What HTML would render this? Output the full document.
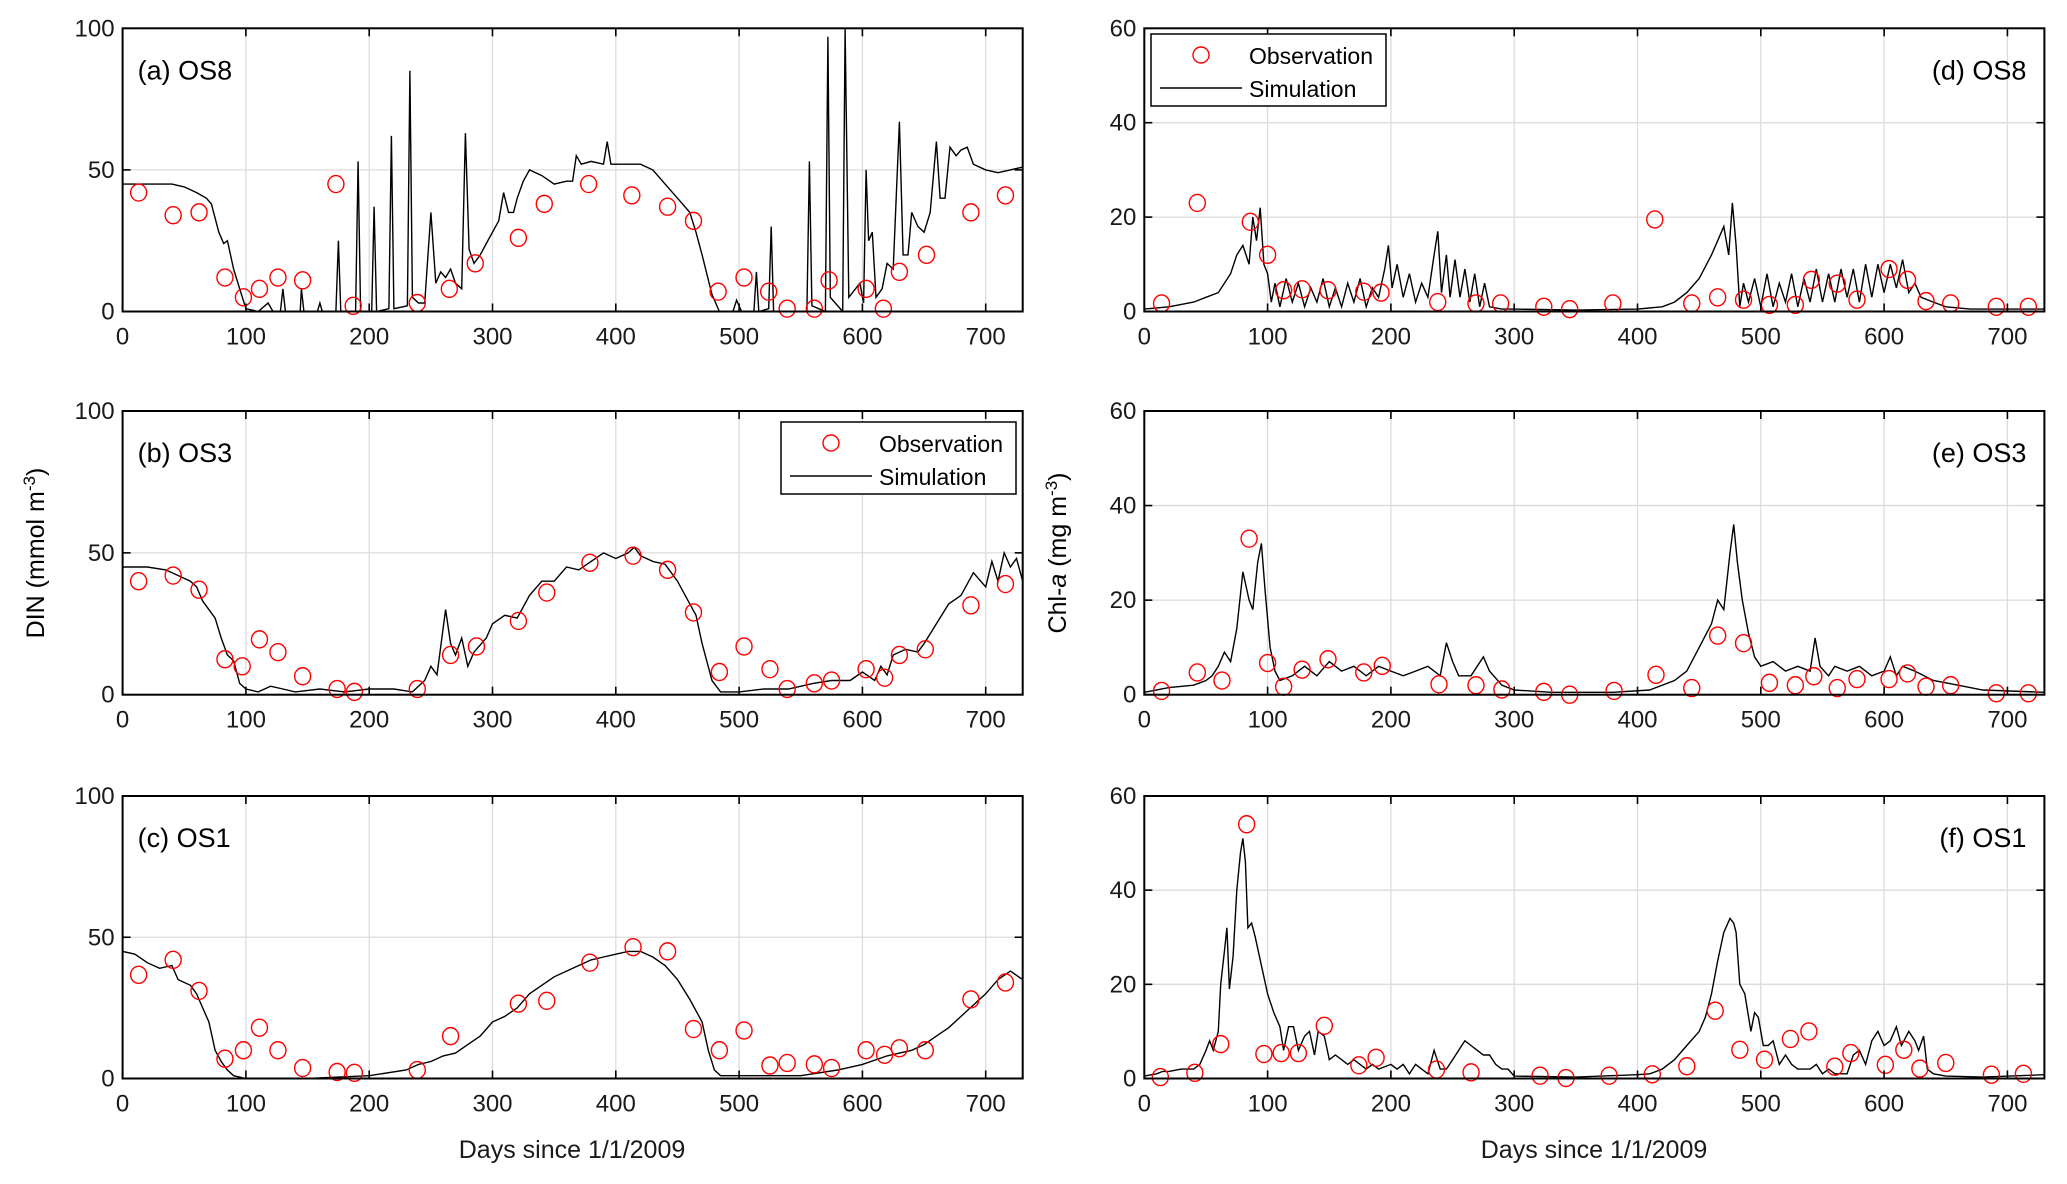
<!DOCTYPE html>
<html><head><meta charset="utf-8"><style>
html,body{margin:0;padding:0;background:#fff}
svg{display:block;font-family:"Liberation Sans",Arial,sans-serif}
</style></head><body>
<svg id="fig" width="2067" height="1184" viewBox="0 0 2067 1184" xmlns="http://www.w3.org/2000/svg"></svg>
<script>
const xTicks=[0,100,200,300,400,500,600,700];
const dinTicks=[0,50,100];
const chlTicks=[0,20,40,60];
const obsDaysA=[13,41,62,83,98,111,126,146,173,187,239,265,286,321,342,378,413,442,463,483,504,524,539,561,573,603,617,630,652,688,716];
const obsA=[42,34,35,12,5,8,12,11,45,2,3,8,17,26,38,45,41,37,32,7,12,7,1,1,11,8,1,14,20,35,41];
const obsDaysB=[13,41,62,83,97,111,126,146,174,188,239,266,287,321,344,379,414,442,463,484,504,525,539,561,575,603,618,630,651,688,716];
const obsB=[40,42,37,12.5,10,19.5,15,6.5,2,1,2,14,17,26,36,46.5,49,44,29,8,17,9,2,4,5,9,6,14,16,31.5,39];
const obsDaysC=[13,41,62,83,98,111,126,146,174,188,239,266,321,344,379,414,442,463,484,504,525,539,561,575,603,618,630,651,688,716];
const obsC=[36.7,42,31,7,10,18,10,3.7,2.3,2,3,15,26.5,27.5,41,46.5,45,17.5,10,17,4.6,5.5,5,3.7,10,8.4,10.7,10,28,34];
const obsDaysD=[14,43,86,100,113,128,149,178,192,238,269,289,324,345,380,414,444,465,486,507,528,541,562,578,604,619,634,654,691,717];
const obsD=[1.7,23,19,12,4.5,4.7,4.5,4.2,4,2,1.7,1.7,1,0.5,1.7,19.5,1.7,3,2.5,1.4,1.4,6.7,5.9,2.5,9,6.7,2.2,1.7,1,1];
const obsDaysE=[14,43,63,85,100,113,128,149,178,193,239,269,290,324,345,381,415,444,465,486,507,528,543,562,578,604,619,634,654,691,717];
const obsE=[0.8,4.7,3,33,6.7,1.7,5.3,7.5,4.7,6.1,2.2,2,1.1,0.6,0,0.8,4.2,1.4,12.5,10.9,2.5,2,3.9,1.4,3.3,3.3,4.5,1.7,2,0.3,0.3];
const obsDaysF=[13,41,62,83,97,111,125,146,174,188,237,265,321,342,377,412,440,463,483,503,524,539,560,573,601,616,629,650,687,713];
const obsF=[0.3,1.2,7.3,54,5.2,5.4,5.4,11.2,2.8,4.4,1.9,1.3,0.6,0.1,0.6,0.9,2.6,14.4,6.1,4,8.4,10,2.5,5.4,2.9,6.1,2.1,3.3,0.8,1];
const simA=[[0,45],[20,45],[40,45],[50,44],[60,42],[68,40],[72,38],[78,28],[82,24],[85,25],[90,15],[95,8],[100,1],[110,0],[118,3],[122,0],[128,0],[130,8],[132,0],[144,0],[145,8],[147,0],[158,0],[160,3],[162,0],[173,0],[175,25],[177,0],[189,0],[191,53],[193,0],[202,0],[204,37],[206,0],[216,1],[218,62],[220,1],[231,2],[233,85],[235,5],[240,3],[245,3],[250,35],[254,10],[258,14],[262,12],[266,15],[270,10],[275,8],[278,63],[281,22],[285,17],[290,20],[295,24],[300,28],[305,32],[309,42],[313,35],[317,35],[320,40],[325,46],[330,50],[340,48],[350,45],[360,46],[365,46],[368,55],[372,52],[380,53],[390,52],[393,60],[396,52],[410,52],[420,52],[430,50],[440,45],[450,40],[460,35],[465,28],[470,20],[478,6],[484,0],[495,0],[498,4],[502,0],[512,0],[514,14],[516,0],[524,1],[526,30],[528,0],[555,0],[557,53],[559,2],[570,0],[572,97],[574,5],[584,0],[586,100],[589,5],[598,10],[601,3],[603,50],[605,25],[608,28],[611,5],[616,8],[620,17],[625,15],[630,67],[633,20],[637,20],[640,35],[645,30],[650,28],[655,35],[660,60],[663,40],[667,40],[671,58],[676,55],[680,57],[685,58],[690,52],[700,50],[710,49],[720,50],[730,51]];
const simB=[[0,45],[20,45],[35,44],[45,42],[55,40],[60,38],[65,33],[70,30],[75,27],[80,20],[85,14],[90,12],[95,4],[100,2],[110,1],[120,3],[130,2],[140,1],[160,2],[180,1],[200,2],[220,2],[235,1],[245,5],[250,10],[255,7],[262,30],[266,18],[270,14],[275,20],[280,10],[285,15],[295,20],[300,25],[310,28],[320,27],[330,35],[340,40],[350,40],[360,45],[370,44],[380,47],[390,50],[400,48],[410,50],[415,52],[420,49],[430,47],[440,46],[450,40],[460,32],[465,28],[470,18],[478,5],[485,1],[500,1],[520,2],[540,2],[560,4],[575,5],[590,5],[600,8],[610,5],[615,10],[620,7],[625,14],[635,16],[645,15],[650,18],[660,25],[670,32],[680,35],[690,43],[700,38],[705,47],[710,40],[715,50],[720,45],[725,48],[730,40]];
const simC=[[0,45],[10,44],[20,41],[30,39],[40,40],[45,35],[55,33],[60,30],[65,25],[70,20],[75,10],[80,6],[85,3],[90,1],[100,0],[150,0],[200,1],[230,3],[240,5],[250,6],[260,8],[270,9],[280,12],[290,15],[300,20],[310,22],[320,25],[330,30],[340,33],[350,36],[360,38],[370,40],[380,42],[390,43],[400,44],[410,45],[420,45],[430,43],[440,40],[450,35],[460,28],[470,20],[475,10],[480,3],[485,1],[500,1],[550,1],[580,3],[600,5],[620,8],[640,10],[650,12],[660,15],[670,18],[680,22],[690,26],[700,30],[710,35],[720,38],[730,35]];
const simD=[[0,0.5],[20,1],[40,2],[50,3],[60,4],[70,8],[75,12],[80,14],[85,10],[88,20],[91,15],[94,22],[97,10],[100,8],[103,2],[106,6],[110,1],[115,7],[120,2],[125,6],[130,1],[135,5],[140,2],[145,7],[150,1],[155,5],[160,1],[165,6],[170,2],[175,7],[180,1],[185,5],[190,3],[195,9],[198,14],[201,5],[205,10],[210,3],[215,8],[220,2],[225,6],[230,3],[235,12],[238,17],[241,4],[245,12],[248,3],[252,11],[256,3],[260,9],[264,2],[268,8],[272,1],[276,6],[280,1],[290,0.5],[300,0.5],[350,0.3],[400,0.5],[420,1],[430,2],[440,4],[450,7],[460,12],[465,15],[470,18],[474,12],[477,23],[480,14],[483,1],[486,6],[490,2],[495,7],[500,1],[505,8],[510,1],[515,6],[520,2],[525,8],[530,1],[535,7],[540,2],[545,9],[550,2],[555,8],[560,2],[565,9],[570,3],[575,9],[580,2],[585,10],[590,3],[595,10],[600,4],[605,10],[610,5],[615,11],[620,4],[625,6],[630,3],[640,2],[650,1],[670,0.5],[730,0.5]];
const simE=[[0,0.5],[20,1.5],[40,2],[50,3],[55,4],[60,6],[65,9],[70,7],[75,14],[80,26],[85,20],[88,18],[92,28],[95,32],[98,22],[102,10],[106,5],[110,3],[120,4],[130,6],[140,4],[150,7],[160,5],[170,6],[180,4],[190,6],[200,5],[210,4],[220,5],[230,6],[240,4],[245,11],[250,7],[255,4],[265,4],[275,8],[280,5],[290,2],[300,1],[330,0.5],[380,0.5],[410,1],[430,3],[440,5],[450,10],[460,15],[465,20],[470,18],[475,30],[478,36],[481,28],[485,20],[490,13],[495,8],[500,6],[510,7],[520,5],[530,6],[540,5],[544,12],[548,6],[555,4],[560,6],[570,5],[580,6],[590,4],[600,5],[605,8],[610,4],[615,6],[625,5],[640,3],[660,2],[680,1],[730,0.5]];
const simF=[[0,0.5],[10,1],[15,1.5],[20,1.5],[30,2],[40,2],[45,3],[50,6],[53,8],[56,6],[60,10],[62,20],[65,27],[67,32],[69,19],[72,26],[75,40],[78,48],[80,51],[82,46],[84,32],[87,33],[90,30],[95,24],[100,18],[105,14],[110,11],[113,6],[117,11],[121,11],[125,6],[130,9],[134,10],[138,5],[141,10],[146,9],[150,4],[155,5],[160,4],[165,3],[170,4],[180,2],[185,3],[190,2],[200,3],[205,2],[210,3],[215,1],[220,3],[225,2],[230,1],[235,6],[240,2],[245,2],[250,4],[255,6],[260,8],[265,7],[270,6],[275,5],[280,5],[285,3],[290,2],[295,2],[300,0.5],[350,0.3],[400,0.8],[410,1],[420,2],[430,4],[440,7],[450,10],[455,13],[460,18],[465,25],[470,31],[475,34],[478,33],[480,31],[483,20],[487,18],[492,10],[495,14],[498,13],[502,7],[506,7],[510,8],[515,3],[520,5],[525,3],[530,2],[540,2],[545,3],[550,1],[555,2],[560,1],[570,1],[575,5],[580,6],[585,3],[590,8],[595,10],[600,7],[605,8],[610,11],[614,7],[620,10],[625,8],[628,6],[632,9],[635,2],[640,1],[650,0.5],[680,0.3],[730,0.8]];

const NS="http://www.w3.org/2000/svg";
const svg=document.getElementById('fig');
function mk(tag,attrs,parent){const e=document.createElementNS(NS,tag);for(const k in attrs)e.setAttribute(k,attrs[k]);(parent||svg).appendChild(e);return e;}

const cols=[{x0:122.6,x1:1022.7},{x0:1144.3,x1:2044.4}];
const rows=[{y0:28.3,y1:311.5},{y0:411,y1:694.7},{y0:796,y1:1078.5}];
const panels=[
 {id:'a',label:'(a) OS8',c:0,r:0,ymax:100,ticks:dinTicks,sim:simA,od:obsDaysA,ov:obsA,lx:'left'},
 {id:'b',label:'(b) OS3',c:0,r:1,ymax:100,ticks:dinTicks,sim:simB,od:obsDaysB,ov:obsB,lx:'left'},
 {id:'c',label:'(c) OS1',c:0,r:2,ymax:100,ticks:dinTicks,sim:simC,od:obsDaysC,ov:obsC,lx:'left'},
 {id:'d',label:'(d) OS8',c:1,r:0,ymax:60,ticks:chlTicks,sim:simD,od:obsDaysD,ov:obsD,lx:'right'},
 {id:'e',label:'(e) OS3',c:1,r:1,ymax:60,ticks:chlTicks,sim:simE,od:obsDaysE,ov:obsE,lx:'right'},
 {id:'f',label:'(f) OS1',c:1,r:2,ymax:60,ticks:chlTicks,sim:simF,od:obsDaysF,ov:obsF,lx:'right'}
];

panels.forEach(p=>{
 const C=cols[p.c],R=rows[p.r];
 const xs=d=>C.x0+(d/730)*(C.x1-C.x0);
 const ys=v=>R.y1-(v/p.ymax)*(R.y1-R.y0);
 const g=mk('g',{});
 
 
 const clipId='clip'+p.id;
 const cp=mk('clipPath',{id:clipId},g);
 mk('rect',{x:C.x0,y:R.y0,width:C.x1-C.x0,height:R.y1-R.y0},cp);
 // grid
 xTicks.forEach(t=>{
  const l=mk('line',{x1:xs(t),x2:xs(t),y1:R.y0,y2:R.y1,stroke:'#dcdcdc','stroke-width':1.3},g);
  
  
 });
 p.ticks.forEach(t=>{
  const l=mk('line',{x1:C.x0,x2:C.x1,y1:ys(t),y2:ys(t),stroke:'#dcdcdc','stroke-width':1.3},g);
  
  
 });
 // sim line
 const pts=p.sim.map(q=>xs(q[0]).toFixed(1)+','+ys(q[1]).toFixed(1)).join(' ');
 const pl=mk('polyline',{points:pts,fill:'none',stroke:'#000','stroke-width':1.4,'clip-path':'url(#'+clipId+')'},g);
 
 
 // obs
 p.od.forEach((d,i)=>{
  const c=mk('ellipse',{cx:xs(d),cy:ys(p.ov[i]),rx:8,ry:8.5,fill:'none',stroke:'#ff0000','stroke-width':1.4},g);
  
  
 });
 // frame
 const fr=mk('rect',{x:C.x0,y:R.y0,width:C.x1-C.x0,height:R.y1-R.y0,fill:'none',stroke:'#000','stroke-width':2},g);
 
 
 // ticks
 xTicks.forEach(t=>{
  mk('line',{x1:xs(t),x2:xs(t),y1:R.y1,y2:R.y1-8,stroke:'#000','stroke-width':1.6},g);
  mk('line',{x1:xs(t),x2:xs(t),y1:R.y0,y2:R.y0+8,stroke:'#000','stroke-width':1.6},g);
  const tx=mk('text',{x:xs(t),y:R.y1+33,'font-size':24,'text-anchor':'middle',fill:'#1a1a1a'},g);
  tx.textContent=t;
  
  
 });
 p.ticks.forEach(t=>{
  mk('line',{x1:C.x0,x2:C.x0+8,y1:ys(t),y2:ys(t),stroke:'#000','stroke-width':1.6},g);
  mk('line',{x1:C.x1,x2:C.x1-8,y1:ys(t),y2:ys(t),stroke:'#000','stroke-width':1.6},g);
  const tx=mk('text',{x:C.x0-8,y:ys(t)+8,'font-size':24,'text-anchor':'end',fill:'#1a1a1a'},g);
  tx.textContent=t;
  
  
 });
 // panel label
 const lb=mk('text',{x:p.lx==='left'?C.x0+15:C.x1-18,y:R.y0+51,'font-size':27,'text-anchor':p.lx==='left'?'start':'end',fill:'#000'},g);
 lb.textContent=p.label;
 
 
});

// legends
function legend(x,y,w,h,name){
 const g=mk('g',{});
 
 
 mk('rect',{x:x,y:y,width:w,height:h,fill:'#fff',stroke:'#000','stroke-width':1.5},g);
 mk('circle',{cx:x+50,cy:y+21,r:8,fill:'none',stroke:'#ff0000','stroke-width':1.4},g);
 mk('line',{x1:x+9,x2:x+91,y1:y+54,y2:y+54,stroke:'#000','stroke-width':1.4},g);
 const t1=mk('text',{x:x+98,y:y+30,'font-size':23,fill:'#000'},g);t1.textContent='Observation';
 
 
 const t2=mk('text',{x:x+98,y:y+63,'font-size':23,fill:'#000'},g);t2.textContent='Simulation';
 
 
}
legend(1151,34,235,72,'legend-d');
legend(781,422,235,72,'legend-b');

// axis labels
function ylab(x,y,html,name){
 const t=mk('text',{x:0,y:0,'font-size':25,'text-anchor':'middle',transform:'translate('+x+','+y+') rotate(-90)'});
 t.innerHTML=html;
 
 
}
ylab(44,553,'DIN (mmol m<tspan dy="-9" font-size="17">-3</tspan><tspan dy="9">)</tspan>','y-axis-title-din');
ylab(1066,553,'Chl-<tspan font-style="italic">a</tspan> (mg m<tspan dy="-9" font-size="17">-3</tspan><tspan dy="9">)</tspan>','y-axis-title-chl');
[[572,'x-axis-title-left'],[1594,'x-axis-title-right']].forEach(a=>{
 const t=mk('text',{x:a[0],y:1158,'font-size':25,'text-anchor':'middle',fill:'#1a1a1a'});
 t.textContent='Days since 1/1/2009';
 
 
});
</script>
</body></html>
